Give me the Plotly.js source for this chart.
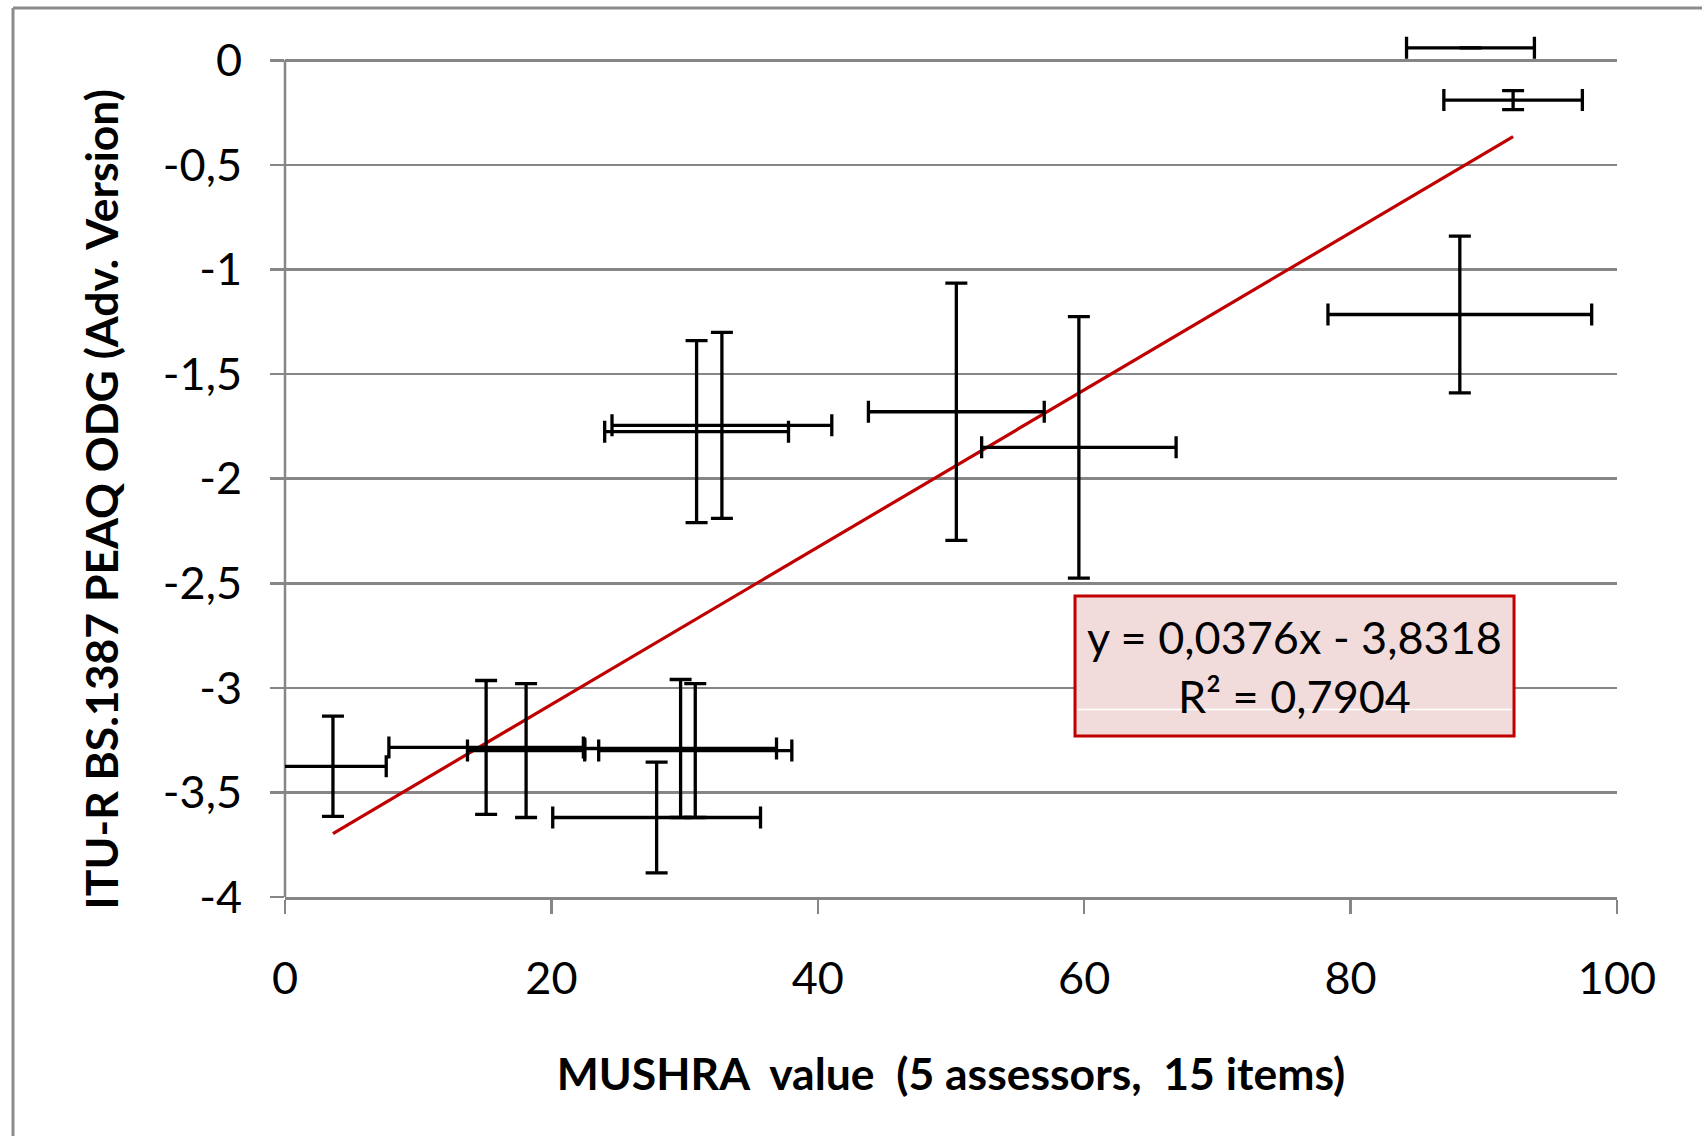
<!DOCTYPE html>
<html>
<head>
<meta charset="utf-8">
<script src="https://cdn.plot.ly/plotly-3.0.1.min.js"></script>
<style>
  html, body { margin: 0; padding: 0; background: #ffffff; }
  #chart { width: 1702px; height: 1136px; }
</style>
</head>
<body>
<div id="chart"></div>
<script>
// ---- data ----
const mushraMean  = [3.6, 15.1, 18.1, 27.9, 29.7, 30.8, 30.9, 32.8, 50.4, 59.6, 89.0, 92.2, 88.2];
const mushraCI    = [4.0,  7.3,  4.4,  7.8,  7.2,  7.25, 6.9,  8.25, 6.6,  7.3,  4.8,  5.2,  9.9];
const odgMean     = [-3.375, -3.285, -3.30, -3.62, -3.29, -3.30, -1.775, -1.745, -1.68, -1.85, 0.06, -0.19, -1.215];
const odgCI       = [0.24,  0.32,  0.32,  0.265, 0.33,  0.32,  0.435,  0.445,  0.615, 0.625, null, 0.045, 0.375];

const trendSlope = 0.0376;
const trendIntercept = -3.8318;
const trendR2 = "0,7904";

const xTickVals = [0, 20, 40, 60, 80, 100];
const yTickVals = [0, -0.5, -1, -1.5, -2, -2.5, -3, -3.5, -4];
const yTickText = ["0", "-0,5", "-1", "-1,5", "-2", "-2,5", "-3", "-3,5", "-4"];

const xTitle = "MUSHRA  value  (5 assessors,  15 items)";
const yTitle = "ITU-R BS.1387 PEAQ ODG (Adv. Version)";
const eqText = "y = 0,0376x - 3,8318<br>R² = " + trendR2;

// ---- traces ----
const xMin = Math.min.apply(null, mushraMean);
const xMax = Math.max.apply(null, mushraMean);
const trendX = [xMin, xMax];
const trendY = trendX.map(v => trendSlope * v + trendIntercept);

const FONT = "Lato, 'Open Sans', sans-serif";
const GRID = "#868686";
const YTOP = 0.15;   // headroom so the point above 0 stays visible
const YAXIS_FRAC = 4 / (4 + YTOP);

const points = {
  type: "scatter",
  mode: "markers",
  x: mushraMean,
  y: odgMean,
  marker: { size: 1, color: "rgba(0,0,0,0)" },
  error_x: { type: "data", array: mushraCI, visible: true, color: "#000000", thickness: 3.3, width: 11 },
  error_y: { type: "data", array: odgCI, visible: true, color: "#000000", thickness: 3.3, width: 11 },
  hoverinfo: "x+y",
  showlegend: false
};

const trend = {
  type: "scatter",
  mode: "lines",
  x: trendX,
  y: trendY,
  line: { color: "#c00000", width: 3.2 },
  hoverinfo: "skip",
  showlegend: false
};

const layout = {
  width: 1702,
  height: 1136,
  margin: { l: 285, r: 85, t: 29, b: 239, pad: 0 },
  paper_bgcolor: "#ffffff",
  plot_bgcolor: "#ffffff",
  font: { family: FONT, size: 45, color: "#000000" },
  xaxis: {
    range: [0, 100],
    tickmode: "array",
    tickvals: xTickVals,
    ticks: "outside",
    ticklen: 14,
    tickwidth: 2.5,
    tickcolor: GRID,
    ticklabelstandoff: 26,
    showline: true,
    linecolor: GRID,
    linewidth: 2.5,
    showgrid: false,
    zeroline: false,
    tickfont: { family: FONT, size: 45, color: "#000000" },
    title: { text: xTitle, font: { family: FONT, size: 44.5, weight: 700, color: "#000000" }, standoff: 57 }
  },
  yaxis: {
    range: [-4, YTOP],
    tickmode: "array",
    tickvals: yTickVals,
    ticktext: yTickText,
    ticks: "outside",
    ticklen: 14,
    tickwidth: 2.5,
    tickcolor: GRID,
    ticklabelstandoff: 19,
    showline: false,
    showgrid: true,
    gridcolor: GRID,
    gridwidth: 2.5,
    zeroline: false,
    tickfont: { family: FONT, size: 45, color: "#000000" },
    title: { text: "" }
  },
  shapes: [
    // outer chart frame (left and top edges visible)
    { type: "line", xref: "paper", yref: "paper", x0: -0.2042, x1: 1.2, y0: 1.0242, y1: 1.0242,
      line: { color: "#8c8c8c", width: 3 } },
    { type: "line", xref: "paper", yref: "paper", x0: -0.2042, x1: -0.2042, y0: -0.5, y1: 1.0242,
      line: { color: "#8c8c8c", width: 3 } },
    // vertical axis line, from -4 up to 0 only
    { type: "line", xref: "paper", yref: "paper", x0: 0, x1: 0, y0: 0, y1: YAXIS_FRAC,
      line: { color: GRID, width: 2.5 }, layer: "below" },
    // equation box
    { type: "rect", xref: "paper", yref: "paper", x0: 0.5931, x1: 0.9227, y0: 0.1855, y1: 0.3468,
      fillcolor: "#f2dcdb", line: { color: "#c00000", width: 3 }, layer: "above" },
    { type: "line", xref: "paper", yref: "paper", x0: 0.5950, x1: 0.9208, y0: 0.2160, y1: 0.2160,
      line: { color: "#ffffff", width: 1.5 }, layer: "above" }
  ],
  annotations: [
    { xref: "paper", yref: "paper", x: 0.7579, y: 0.2661, xanchor: "center", yanchor: "middle",
      text: eqText, showarrow: false, align: "center",
      font: { family: FONT, size: 45, color: "#000000" } },
    { xref: "paper", yref: "paper", x: -0.1386, y: 0.4585, xanchor: "center", yanchor: "middle",
      text: yTitle, textangle: -90, showarrow: false,
      font: { family: FONT, size: 44.5, weight: 700, color: "#000000" } }
  ]
};

Plotly.newPlot("chart", [trend, points], layout, { displayModeBar: false, staticPlot: true });
</script>
</body>
</html>
